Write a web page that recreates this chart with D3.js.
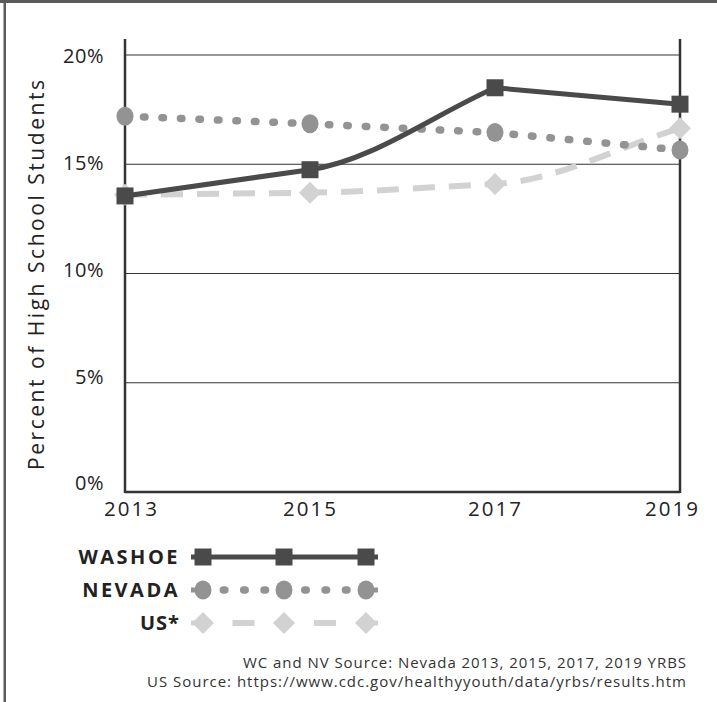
<!DOCTYPE html>
<html>
<head>
<meta charset="utf-8">
<script src="https://cdn.jsdelivr.net/npm/d3@7"></script>
<style>
  html, body { margin: 0; padding: 0; background: #fff; }
  svg { display: block; font-family: "Open Sans", "Lato", sans-serif; }
</style>
</head>
<body>
<svg id="chart" width="717" height="702"></svg>
<script>
const years = [2013, 2015, 2017, 2019];
const washoe = [13.55, 14.75, 18.5, 17.75];
const nevada = [17.2, 16.85, 16.45, 15.65];
const us = [13.6, 13.7, 14.1, 16.65];
const yTicks = [0, 5, 10, 15, 20];
const seriesNames = ["WASHOE", "NEVADA", "US*"];
const sourceLines = [
  "WC and NV Source: Nevada 2013, 2015, 2017, 2019 YRBS",
  "US Source: https://www.cdc.gov/healthyyouth/data/yrbs/results.htm"
];

const svg = d3.select("#chart");

// frame
svg.append("rect").attr("x", 0).attr("y", 0).attr("width", 717).attr("height", 3).attr("fill", "#5b5b5b");
svg.append("rect").attr("x", 3.5).attr("y", 0).attr("width", 2.5).attr("height", 702).attr("fill", "#5b5b5b");

const pLeft = 125, pRight = 680, pTop = 55, pBottom = 492;
const x = d3.scalePoint().domain(years).range([pLeft, pRight]);
const y = d3.scaleLinear().domain([0, 20]).range([pBottom, pTop]);
const yLab = d3.scaleLinear().domain([0, 20]).range([483.5, 56.5]);

// gridlines
svg.append("g").selectAll("line").data(yTicks.filter(d => d > 0)).join("line")
  .attr("x1", pLeft).attr("x2", pRight)
  .attr("y1", d => y(d)).attr("y2", d => y(d))
  .attr("stroke", "#333").attr("stroke-width", 1.2);

// y axis labels
const yAxis = d3.axisLeft(yLab).tickValues(yTicks).tickSize(0).tickPadding(21).tickFormat(d => d + "%");
const gy = svg.append("g").attr("transform", `translate(${pLeft},0)`).call(yAxis);
gy.select(".domain").remove();
gy.selectAll("text").attr("font-size", 20).attr("fill", "#222").attr("font-family", "Open Sans")
  .attr("letter-spacing", 0.5);

// x axis labels
const xAxis = d3.axisBottom(x).tickSize(0).tickPadding(9).tickFormat(d3.format("d"));
const gx = svg.append("g").attr("transform", `translate(0,${pBottom})`).call(xAxis);
gx.select(".domain").remove();
gx.selectAll("text").attr("font-size", 20.5).attr("fill", "#222").attr("font-family", "Open Sans")
  .attr("letter-spacing", 2)
  .attr("dx", (d, i) => (i === 0 ? 6 : (i === years.length - 1 ? -8 : 0)));

// frame lines of plot
svg.append("line").attr("x1", pLeft).attr("x2", pRight).attr("y1", pBottom).attr("y2", pBottom)
  .attr("stroke", "#333").attr("stroke-width", 2.5);
[pLeft, pRight].forEach(xx => {
  svg.append("line").attr("x1", xx).attr("x2", xx).attr("y1", 39).attr("y2", pBottom + 1)
    .attr("stroke", "#333").attr("stroke-width", 2.5);
});

// y title
svg.append("text")
  .attr("transform", `translate(44,275) rotate(-90)`)
  .attr("text-anchor", "middle")
  .attr("font-size", 21).attr("fill", "#222").attr("font-family", "Open Sans")
  .attr("textLength", 390).attr("lengthAdjust", "spacing")
  .text("Percent of High School Students");

// line path: segments bend smoothly only where the series accelerates upward
function seriesPath(vals) {
  const pts = vals.map((v, i) => [x(years[i]), y(v)]);
  const p = d3.path();
  p.moveTo(pts[0][0], pts[0][1]);
  for (let i = 1; i < pts.length; i++) {
    const [x0, y0] = pts[i - 1], [x1, y1] = pts[i];
    const dx = x1 - x0;
    const chord = (y1 - y0) / dx;
    if (i >= 2) {
      const prev = (y0 - pts[i - 2][1]) / (x0 - pts[i - 2][0]);
      if (chord < prev) { // steeper upward (pixel y decreasing)
        p.bezierCurveTo(x0 + dx / 3, y0 + prev * dx / 3, x1 - dx / 3, y1 - chord * dx / 3, x1, y1);
        continue;
      }
    }
    p.lineTo(x1, y1);
  }
  return p.toString();
}

const styles = [
  { color: "#4a4a4a", width: 5, dash: null, cap: "butt", marker: "square" },
  { color: "#939393", width: 7.5, dash: "1.5 17", cap: "round", marker: "circle" },
  { color: "#d2d2d2", width: 6, dash: "22 14", cap: "butt", marker: "diamond" }
];
const data = [washoe, nevada, us];

function drawMarker(g, type, cx, cy, color) {
  if (type === "square") {
    g.append("rect").attr("x", cx - 8.5).attr("y", cy - 8.5).attr("width", 17).attr("height", 17).attr("fill", color);
  } else if (type === "circle") {
    g.append("ellipse").attr("cx", cx).attr("cy", cy).attr("rx", 8.5).attr("ry", 9.5).attr("fill", color);
  } else {
    g.append("path").attr("d", `M${cx},${cy - 11}L${cx + 11},${cy}L${cx},${cy + 11}L${cx - 11},${cy}Z`).attr("fill", color);
  }
}

// draw order: US, Nevada, Washoe
[2, 1, 0].forEach(si => {
  const s = styles[si];
  const g = svg.append("g");
  g.append("path").attr("d", seriesPath(data[si]))
    .attr("fill", "none").attr("stroke", s.color).attr("stroke-width", s.width)
    .attr("stroke-linecap", s.cap)
    .attr("stroke-dasharray", s.dash);
  data[si].forEach((v, i) => drawMarker(g, s.marker, x(years[i]), y(v), s.color));
});

// legend
const legY = [557, 590, 623];
const legX = [203, 284, 366];
const legL = 191, legR = 378;
seriesNames.forEach((name, si) => {
  const s = styles[si];
  const ly = legY[si];
  const g = svg.append("g");
  g.append("text").attr("x", 180).attr("y", ly).attr("dy", "0.36em")
    .attr("text-anchor", "end").attr("font-size", 20).attr("font-weight", "bold")
    .attr("letter-spacing", si === 2 ? 1 : 2.5)
    .attr("fill", "#222").attr("font-family", "Open Sans").text(name);
  if (si === 0) {
    g.append("line").attr("x1", legL).attr("x2", legR).attr("y1", ly).attr("y2", ly)
      .attr("stroke", s.color).attr("stroke-width", s.width);
  } else if (si === 1) {
    g.append("line").attr("x1", legX[0]).attr("x2", legX[2]).attr("y1", ly).attr("y2", ly)
      .attr("stroke", s.color).attr("stroke-width", s.width).attr("stroke-linecap", "round")
      .attr("stroke-dasharray", "1.5 18.85");
    [[legL, legX[0]], [legX[2], legR]].forEach(([a, b]) =>
      g.append("line").attr("x1", a).attr("x2", b).attr("y1", ly).attr("y2", ly)
        .attr("stroke", s.color).attr("stroke-width", 5));
  } else {
    for (let k = 0; k < legX.length - 1; k++) {
      const m = (legX[k] + legX[k + 1]) / 2;
      g.append("line").attr("x1", m - 11).attr("x2", m + 11).attr("y1", ly).attr("y2", ly)
        .attr("stroke", s.color).attr("stroke-width", s.width);
    }
    [[legL, legX[0]], [legX[2], legR]].forEach(([a, b]) =>
      g.append("line").attr("x1", a).attr("x2", b).attr("y1", ly).attr("y2", ly)
        .attr("stroke", s.color).attr("stroke-width", 5));
  }
  legX.forEach(lx => drawMarker(g, s.marker, lx, ly, s.color));
});

// source
const srcLen = [443, 539];
svg.append("g").selectAll("text").data(sourceLines).join("text")
  .attr("x", 686).attr("y", (d, i) => 663 + i * 19).attr("dy", "0.35em")
  .attr("text-anchor", "end").attr("font-size", 15).attr("fill", "#333")
  .attr("textLength", (d, i) => srcLen[i]).attr("lengthAdjust", "spacing")
  .attr("font-family", "Open Sans").text(d => d);
</script>
</body>
</html>
